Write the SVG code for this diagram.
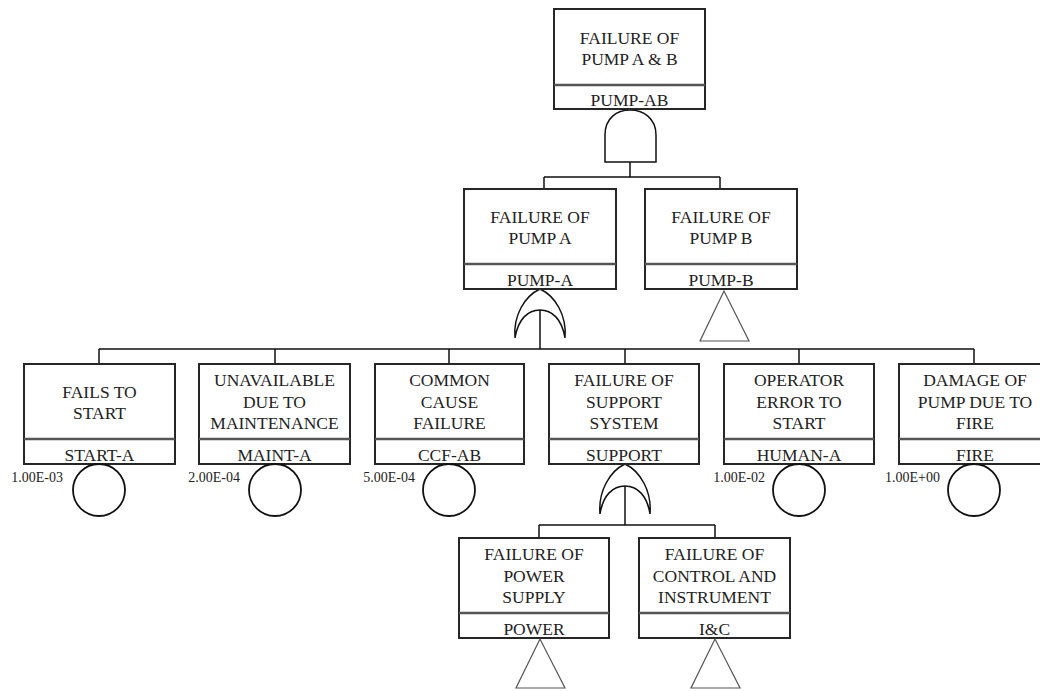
<svg xmlns="http://www.w3.org/2000/svg" width="1040" height="691" viewBox="0 0 1040 691">
<style>
.box{fill:#fff;stroke:#262626;stroke-width:2}
.div{stroke:#555;stroke-width:2.5}
.t{font-family:"Liberation Serif","Times New Roman",serif;font-size:17.5px;fill:#222;text-anchor:middle}
.p{font-family:"Liberation Serif","Times New Roman",serif;font-size:14px;fill:#222;text-anchor:end}
.ln{fill:none;stroke:#111;stroke-width:1.5}
.gate{fill:#fff;stroke:#111;stroke-width:1.5}
.tri{fill:#fff;stroke:#555;stroke-width:1.2}
.ev{fill:#fff;stroke:#111;stroke-width:1.8}
</style>
<rect width="1040" height="691" fill="#fff"/>
<g id="connectors">
<path class="ln" d="M630,162V177M544,177H720M544,177V189M720,177V189"/>
<path class="ln" d="M540,310V349M99,349H974M99,349V364M275,349V364M449,349V364M625,349V364M799,349V364M974,349V364"/>
<path class="ln" d="M625,486V525M539,525H715M539,525V538M715,525V538"/>
</g>
<g id="gate-and-pumpab">
<path class="gate" d="M605,162V135C605,118 617,110 630,110C643,110 656,118 656,135V162Z"/>
</g>
<g id="gate-or-pumpa">
<path class="gate" d="M515,338C513,315 525,296 540,289C555,296 567,315 565,338C562,319 552,310 540,310C528,310 518,319 515,338Z"/>
</g>
<g id="gate-or-support">
<path class="gate" d="M600,514C598,491 610,471 625,464C640,471 652,491 650,514C647,495 637,486 625,486C613,486 603,495 600,514Z"/>
</g>
<g id="PUMP-AB">
<rect class="box" x="554" y="9" width="151" height="100"/>
<line class="div" x1="554" y1="85" x2="705" y2="85"/>
<text class="t" x="629.5" y="44">FAILURE OF</text>
<text class="t" x="629.5" y="65">PUMP A &amp; B</text>
<text class="t" x="629.5" y="106">PUMP-AB</text>
</g>
<g id="PUMP-A">
<rect class="box" x="464" y="189" width="152" height="100"/>
<line class="div" x1="464" y1="264" x2="616" y2="264"/>
<text class="t" x="540" y="223">FAILURE OF</text>
<text class="t" x="540" y="244">PUMP A</text>
<text class="t" x="540" y="286">PUMP-A</text>
</g>
<g id="PUMP-B">
<rect class="box" x="645" y="189" width="152" height="100"/>
<line class="div" x1="645" y1="264" x2="797" y2="264"/>
<text class="t" x="721" y="223">FAILURE OF</text>
<text class="t" x="721" y="244">PUMP B</text>
<text class="t" x="721" y="286">PUMP-B</text>
<polygon class="tri" points="724,291 700,341 749,341"/>
</g>
<g id="START-A">
<rect class="box" x="24" y="364" width="151" height="100"/>
<line class="div" x1="24" y1="439" x2="175" y2="439"/>
<text class="t" x="99.5" y="398">FAILS TO</text>
<text class="t" x="99.5" y="419">START</text>
<text class="t" x="99.5" y="461">START-A</text>
<circle class="ev" cx="99" cy="490" r="26"/>
<text class="p" x="63" y="482">1.00E-03</text>
</g>
<g id="MAINT-A">
<rect class="box" x="199" y="364" width="151" height="100"/>
<line class="div" x1="199" y1="439" x2="350" y2="439"/>
<text class="t" x="274.5" y="386">UNAVAILABLE</text>
<text class="t" x="274.5" y="407.5">DUE TO</text>
<text class="t" x="274.5" y="429">MAINTENANCE</text>
<text class="t" x="274.5" y="461">MAINT-A</text>
<circle class="ev" cx="275" cy="490" r="26"/>
<text class="p" x="240" y="482">2.00E-04</text>
</g>
<g id="CCF-AB">
<rect class="box" x="375" y="364" width="149" height="100"/>
<line class="div" x1="375" y1="439" x2="524" y2="439"/>
<text class="t" x="449.5" y="386">COMMON</text>
<text class="t" x="449.5" y="407.5">CAUSE</text>
<text class="t" x="449.5" y="429">FAILURE</text>
<text class="t" x="449.5" y="461">CCF-AB</text>
<circle class="ev" cx="449" cy="490" r="26"/>
<text class="p" x="415" y="482">5.00E-04</text>
</g>
<g id="SUPPORT">
<rect class="box" x="549" y="364" width="150" height="100"/>
<line class="div" x1="549" y1="439" x2="699" y2="439"/>
<text class="t" x="624" y="386">FAILURE OF</text>
<text class="t" x="624" y="407.5">SUPPORT</text>
<text class="t" x="624" y="429">SYSTEM</text>
<text class="t" x="624" y="461">SUPPORT</text>
</g>
<g id="HUMAN-A">
<rect class="box" x="724" y="364" width="150" height="100"/>
<line class="div" x1="724" y1="439" x2="874" y2="439"/>
<text class="t" x="799" y="386">OPERATOR</text>
<text class="t" x="799" y="407.5">ERROR TO</text>
<text class="t" x="799" y="429">START</text>
<text class="t" x="799" y="461">HUMAN-A</text>
<circle class="ev" cx="799" cy="490" r="26"/>
<text class="p" x="765" y="482">1.00E-02</text>
</g>
<g id="FIRE">
<rect class="box" x="899" y="364" width="151" height="100"/>
<line class="div" x1="899" y1="439" x2="1050" y2="439"/>
<text class="t" x="975" y="386">DAMAGE OF</text>
<text class="t" x="975" y="407.5">PUMP DUE TO</text>
<text class="t" x="975" y="429">FIRE</text>
<text class="t" x="975" y="461">FIRE</text>
<circle class="ev" cx="974" cy="490" r="26"/>
<text class="p" x="940" y="482">1.00E+00</text>
</g>
<g id="POWER">
<rect class="box" x="459" y="538" width="150" height="100"/>
<line class="div" x1="459" y1="613" x2="609" y2="613"/>
<text class="t" x="534" y="560">FAILURE OF</text>
<text class="t" x="534" y="581.5">POWER</text>
<text class="t" x="534" y="603">SUPPLY</text>
<text class="t" x="534" y="635">POWER</text>
<polygon class="tri" points="540,639 516,688 565,688"/>
</g>
<g id="IC">
<rect class="box" x="639" y="538" width="151" height="100"/>
<line class="div" x1="639" y1="613" x2="790" y2="613"/>
<text class="t" x="714.5" y="560">FAILURE OF</text>
<text class="t" x="714.5" y="581.5">CONTROL AND</text>
<text class="t" x="714.5" y="603">INSTRUMENT</text>
<text class="t" x="714.5" y="635">I&amp;C</text>
<polygon class="tri" points="715,639 691,688 740,688"/>
</g>
</svg>
